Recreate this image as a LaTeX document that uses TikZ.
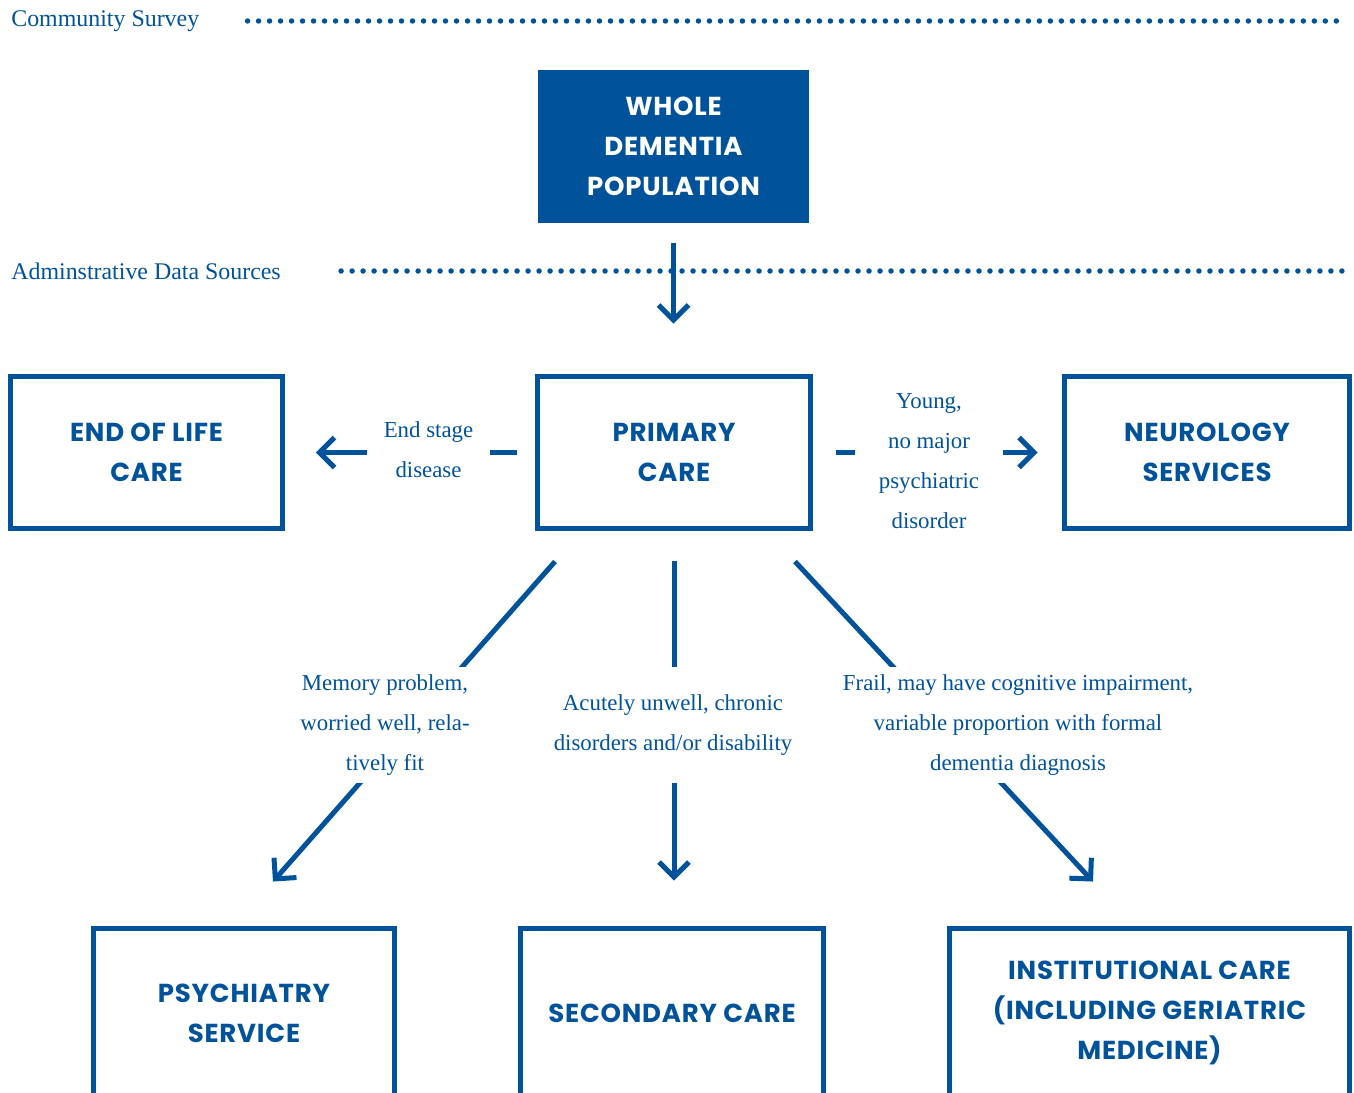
\documentclass[tikz,border=0pt]{standalone}
\usepackage{fontspec}
\setmainfont{Liberation Serif}
\newfontfamily\headfont[LetterSpace=3]{Poppins}
\usetikzlibrary{arrows.meta,positioning}
\definecolor{care_blue}{HTML}{00529B}

\begin{document}
\begin{tikzpicture}[x=0.02cm, y=-0.02cm,
  box/.style={draw=care_blue, line width=0.1cm, minimum width=5.46cm, minimum height=3.06cm,
    inner sep=0pt, align=center, text=care_blue,
    font={\headfont\bfseries\fontsize{14.8pt}{22.7pt}\selectfont}},
  fullbox/.style={box, draw=none, fill=care_blue, text=white, minimum width=5.42cm},
  note/.style={fill=white, inner sep=1pt, align=center, text=care_blue,
    font={\fontsize{13pt}{22.7pt}\selectfont}},
  band/.style={inner sep=0pt, text=care_blue, font={\fontsize{13.6pt}{16pt}\selectfont}},
  dots/.style={care_blue, line width=0.11cm, line cap=round, dash pattern=on 0pt off 0.22cm},
  flow/.style={care_blue, line width=0.1cm, -{Straight Barb[length=0.3cm,width=0.6cm]}},
  link/.style={care_blue, line width=0.1cm}]
  \useasboundingbox (0,0) rectangle (1354,1092);

  % Data source bands
  \node[band, anchor=west] (survey) at (11,21) {Community Survey};
  \coordinate (survey_end) at (1340,18);
  \draw[dots, shorten <=0.96cm] (survey.east) -- (survey.east -| survey_end);

  \node[band, anchor=west] (admin) at (11,271) {Adminstrative Data Sources};
  \coordinate (admin_end) at (1343,271);
  \draw[dots, shorten <=1.2cm] (admin.east) -- (admin.east -| admin_end);

  % Population box
  \node[fullbox] (whole) at (673.5,146.5) {WHOLE\\DEMENTIA\\POPULATION};

  % Middle row
  \node[box] (eol) at (146.5,452.5) {END OF LIFE\\CARE};
  \node[box] (primary) at (674,452.5) {PRIMARY\\CARE};
  \node[box, minimum width=5.72cm] (neuro) at (1207,452.5) {NEUROLOGY\\SERVICES};

  % Bottom row (cut by the page edge)
  \node[box, minimum width=6.04cm, minimum height=3.4cm] (psych) at (244,1013) {PSYCHIATRY\\SERVICE};
  \node[box, minimum width=6.08cm, minimum height=3.4cm] (secondary) at (672,1013) {SECONDARY CARE};
  \node[box, minimum width=8.02cm, minimum height=3.4cm] (inst) at (1149.5,1013) {INSTITUTIONAL CARE\\(INCLUDING GERIATRIC\\MEDICINE)};

  % Connectors
  \draw[flow, shorten <=0.36cm, shorten >=1.0cm] (whole.south) -- (whole.south |- primary.north);
  \draw[flow, shorten <=0.36cm, shorten >=0.61cm] (primary.west) -- (eol.east);
  \draw[flow, shorten <=0.46cm, shorten >=0.48cm] (primary.east) -- (neuro.west);
  \draw[flow] ([xshift=-2.38cm, yshift=-0.6cm]primary.south) -- ([xshift=0.58cm, yshift=0.88cm]psych.north);
  \draw[flow, shorten <=0.6cm, shorten >=0.9cm] (primary.south) -- (primary.south |- secondary.north);
  \draw[flow] ([xshift=2.42cm, yshift=-0.6cm]primary.south) -- ([xshift=-1.13cm, yshift=0.88cm]inst.north);

  % Labels on the connectors
  \node[note, minimum width=2.46cm] (endstage) at (428.5,450) {End stage\\disease};
  \node[note, minimum width=2.96cm] (young) at (929,461) {Young,\\no major\\psychiatric\\disorder};
  \node[note, minimum height=2.32cm] (memory) at (385,725) {Memory problem,\\worried well, rela-\\tively fit};
  \node[note, minimum height=2.32cm] (acute) at (673,725) {Acutely unwell, chronic\\disorders and/or disability};
  \node[note, minimum height=2.32cm] (frail) at (1018,725) {Frail, may have cognitive impairment,\\variable proportion with formal\\dementia diagnosis};
\end{tikzpicture}
\end{document}
